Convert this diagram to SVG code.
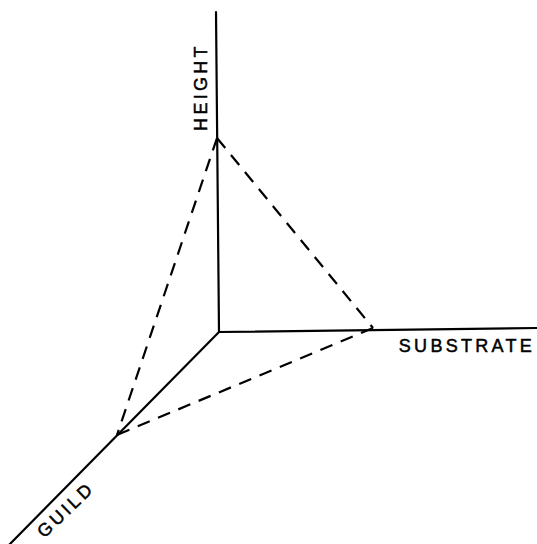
<svg xmlns="http://www.w3.org/2000/svg" width="537" height="544" viewBox="0 0 537 544">
<style>
.axis{stroke:#000;stroke-width:2.2;fill:none;stroke-linecap:round}
.dash{stroke:#000;stroke-width:2.2;fill:none;stroke-dasharray:13 9}
.lbl{font-family:"Liberation Sans",Arial,sans-serif;font-size:18px;fill:#000;stroke:#000;stroke-width:0.5;letter-spacing:3.3px}
</style>
<rect width="537" height="544" fill="#fff"/>
<g id="connectors">
<path class="axis" d="M216,12 L219,332"/>
<path class="axis" d="M219,332 L537,328"/>
<path class="axis" d="M219,332 L8,546"/>
<path class="dash" d="M217,138 L373,328"/>
<path class="dash" d="M217,138 L117,435"/>
<path class="dash" d="M373,328 L117,435"/>
</g>
<g id="height"><text class="lbl" transform="translate(207,87) rotate(-90)" text-anchor="middle">HEIGHT</text></g>
<g id="substrate"><text class="lbl" x="467" y="352" text-anchor="middle">SUBSTRATE</text></g>
<g id="guild"><text class="lbl" transform="translate(70,514) rotate(-44)" text-anchor="middle">GUILD</text></g>
</svg>
